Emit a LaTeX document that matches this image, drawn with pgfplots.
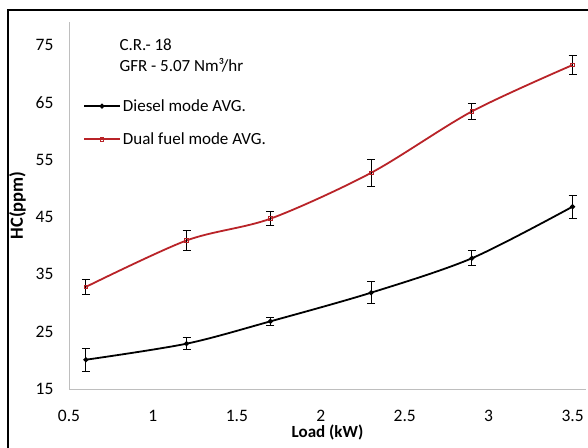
\documentclass[border=0pt]{standalone}
\usepackage{pgfplots}
\pgfplotsset{compat=1.18}
\usepackage{fontspec}
\setmainfont{Carlito}
\definecolor{dualred}{RGB}{185,35,40}
\definecolor{axgray}{RGB}{190,190,190}
\begin{document}
\begin{tikzpicture}[x=1pt,y=1pt]
\clip (0,0) rectangle (588,447);
\fill[white] (0,0) rectangle (588,447);
\draw[line width=2pt] (8,-10) rectangle (600,437);
\begin{axis}[
  at={(69pt,58pt)}, anchor=south west,
  scale only axis, width=517pt, height=367pt,
  xmin=0.5, xmax=3.58, ymin=15, ymax=79,
  axis x line=bottom, axis y line=left,
  axis line style={axgray, line width=1pt, -},
  xtick={0.5,1,...,3.5}, ytick={15,25,...,75},
  major tick length=0pt,
  xticklabels={0.5,1,1.5,2,2.5,3,3.5},
  yticklabel style={xshift=-12pt},
  xticklabel style={yshift=-18pt},
  tick label style={font=\fontsize{17.5}{17.5}\selectfont},
  /pgf/number format/assume math mode=true,
  xlabel={\bfseries Load (kW)}, ylabel={\bfseries HC(ppm)},
  label style={font=\fontsize{17}{17}\selectfont},
  xlabel style={yshift=4pt},
  ylabel style={yshift=3pt, font=\fontsize{18.5}{18.5}\selectfont},
  legend style={draw=none, fill=none, at={(axis description cs:0.027,0.795)}, anchor=north west,
    font=\fontsize{17}{17}\selectfont, row sep=16pt, inner sep=0pt},
  legend cell align=left,
  legend image code/.code={\draw[mark repeat=2,mark phase=2,#1] plot coordinates {(0pt,0pt) (18pt,0pt) (36pt,0pt)};},
  error bars/error bar style={black, line width=1pt},
  error bars/error mark options={rotate=90, mark size=4pt, black, line width=1pt},
]
\addplot+[black, line width=1.8pt, smooth, mark=*, mark size=1.5pt, mark options={black},
  error bars/.cd, y dir=both, y explicit]
  coordinates {
  (0.6,20.1) +- (0,2.0)
  (1.2,22.9) +- (0,1.0)
  (1.7,26.8) +- (0,0.7)
  (2.3,31.8) +- (0,1.9)
  (2.9,37.8) +- (0,1.3)
  (3.5,46.8) +- (0,2.0)
  };
\addlegendentry{Diesel mode AVG.}
\addplot+[dualred, line width=1.8pt, smooth, mark=square, mark size=1.8pt, mark options={dualred, fill=white, line width=0.8pt},
  error bars/.cd, y dir=both, y explicit]
  coordinates {
  (0.6,32.8) +- (0,1.3)
  (1.2,40.9) +- (0,1.8)
  (1.7,44.7) +- (0,1.25)
  (2.3,52.7) +- (0,2.3)
  (2.9,63.4) +- (0,1.4)
  (3.5,71.5) +- (0,1.6)
  };
\addlegendentry{Dual fuel mode AVG.}
\end{axis}
\node[anchor=west, font=\fontsize{17}{17}\selectfont] at (116,402) {C.R.- 18};
\node[anchor=west, font=\fontsize{17}{17}\selectfont] at (116,382) {GFR - 5.07 Nm³/hr};
\end{tikzpicture}
\end{document}
